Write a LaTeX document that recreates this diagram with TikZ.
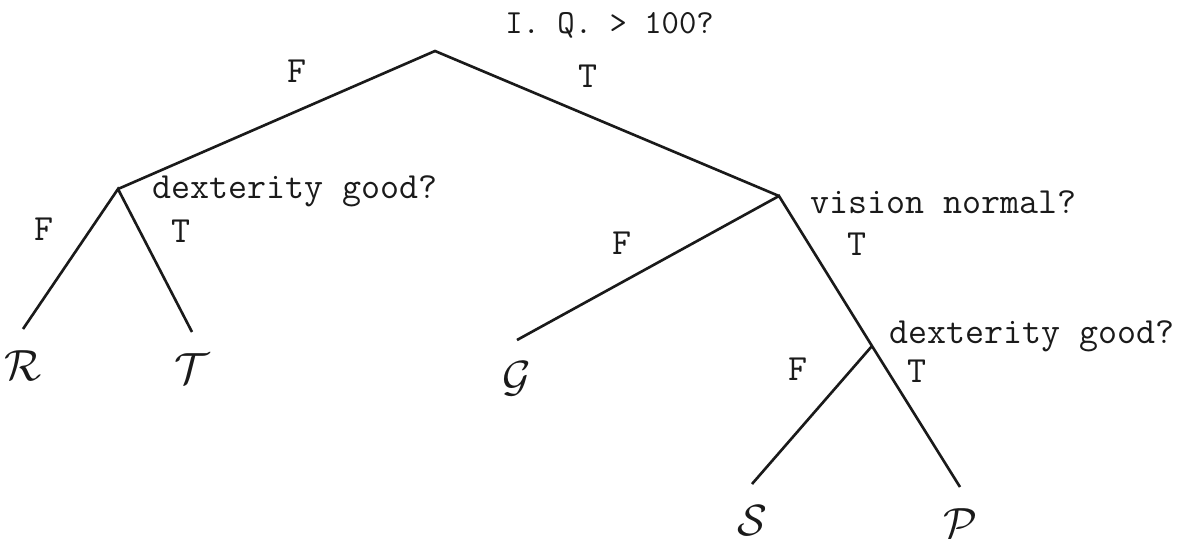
\documentclass[tikz,border=0pt]{standalone}
\usepackage{fontspec}
\usepackage{tikz}
\usetikzlibrary{positioning}
\definecolor{typeink}{HTML}{1A1A1A}

\begin{document}
\begin{tikzpicture}[
        x=0.02cm, y=-0.02cm,
        question/.style={anchor=base west, inner sep=0pt, font=\ttfamily\fontsize{21}{23}\selectfont, text=typeink},
        lbl/.style={inner sep=0pt, font=\ttfamily\fontsize{21}{23}\selectfont, text=typeink},
        leaf/.style={anchor=north, inner xsep=0pt, inner ysep=12pt, font=\fontsize{24.88}{28}\selectfont, text=typeink},
        branch/.style={line width=1.5pt, typeink}
    ]
        \useasboundingbox (0,0) rectangle (1191,538);
        % decision points
        \coordinate (iq) at (435,51);
        \coordinate (dexl) at (118,189);
        \coordinate (vis) at (779,196);
        \coordinate (dexr) at (872,346);
        
        \node (qiq) [question, font=\ttfamily\fontsize{19.2}{21}\selectfont] at (505,33) {I. Q. > 100?};
        \node (qdexl) [question] at (152,198) {dexterity good?};
        \node (qvis) [question] at (810,213) {vision normal?};
        \node (qdexr) [question] at (889,343) {dexterity good?};
        
        % outcomes
        \node (r) [leaf] at (23,329) {$\mathcal{R}$};
        \node (t) [leaf] at (192,332) {$\mathcal{T}$};
        \node (g) [leaf] at (517,340) {$\mathcal{G}$};
        \node (s) [leaf] at (752,484) {$\mathcal{S}$};
        \node (p) [leaf] at (960,487) {$\mathcal{P}$};
        
        \draw [branch] (dexl) -- (iq) -- (vis);
        \draw [branch] (r.north) -- (dexl) -- (t.north);
        \draw [branch] (g.north) -- (vis) -- (dexr) -- (p.north);
        \draw [branch] (dexr) -- (s.north);
        
        \node (f1) [lbl] at (297,71) {F};
        \node (t1) [lbl] at (588,76) {T};
        \node (f2) [lbl] at (44,229) {F};
        \node (t2) [lbl] at (181,231) {T};
        \node (f3) [lbl] at (622,243) {F};
        \node (t3) [lbl] at (857,244) {T};
        \node (f4) [lbl] at (798,369) {F};
        \node (t4) [lbl] at (917,371) {T};
    \end{tikzpicture}
\end{document}
